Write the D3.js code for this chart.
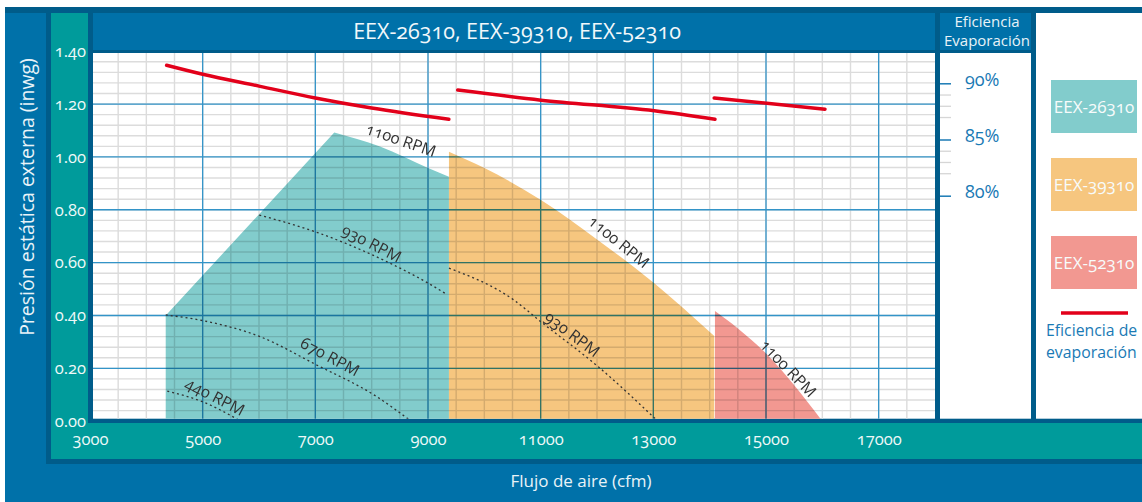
<!DOCTYPE html>
<html>
<head>
<meta charset="utf-8">
<script src="https://cdn.jsdelivr.net/npm/d3@7"></script>
<style>
  body { margin: 0; background: #fff; }
  text { font-family: "Open Sans", sans-serif; font-variant-numeric: oldstyle-nums; }
</style>
</head>
<body>
<div class="canva"></div>
<script>
// values
const title = "EEX-26310, EEX-39310, EEX-52310";
const models = ["EEX-26310", "EEX-39310", "EEX-52310"];
const modelColors = ["#82cccc", "#f6c67f", "#f29891"];
const xTicks = [3000, 5000, 7000, 9000, 11000, 13000, 15000, 17000];
const yTicks = [0, 0.2, 0.4, 0.6, 0.8, 1.0, 1.2, 1.4];
const effTicks = [80, 85, 90];
const effMinor = [82, 83, 84, 87, 88, 89];

// envelopes (cfm, inwg): straight left edge + max rpm curve
const edge26310 = [[4344, 0], [4344, 0.40], [7336, 1.092]];
const top26310 = [[7336, 1.092], [8148, 1.039], [9012, 0.957], [9372, 0.925]];
const edge39310 = [[9372, 0], [9372, 1.020]];
const top39310 = [[9372, 1.020], [10002, 0.958], [11005, 0.837], [12012, 0.686], [13017, 0.522], [14082, 0.322]];
const edge52310 = [[14094, 0], [14094, 0.417]];
const top52310 = [[14094, 0.417], [14502, 0.351], [15012, 0.254], [15512, 0.133], [16000, 0]];

// rpm curves (dotted)
const rpm930a = [[6005, 0.780], [6994, 0.717], [8206, 0.610], [9005, 0.522], [9332, 0.480]];
const rpm670 = [[4344, 0.402], [4993, 0.381], [6018, 0.320], [6994, 0.216], [8089, 0.093], [8700, 0]];
const rpm440 = [[4372, 0.114], [4993, 0.074], [5680, 0]];
const rpm930b = [[9372, 0.579], [10514, 0.460], [11005, 0.376], [12023, 0.206], [13080, 0]];

// evaporation efficiency (cfm, %)
const eff26310 = [[4360, 91.6], [5000, 90.8], [6000, 89.75], [7000, 88.7], [8000, 87.8], [9370, 86.8]];
const eff39310 = [[9527, 89.4], [11005, 88.5], [13017, 87.55], [14094, 86.8]];
const eff52310 = [[14080, 88.7], [16047, 87.7]];

const rpmLabels = [
  {text: "1100 RPM", cfm: 8520, p: 1.064, angle: 19},
  {text: "930 RPM", cfm: 8000, p: 0.673, angle: 27},
  {text: "670 RPM", cfm: 7260, p: 0.244, angle: 28},
  {text: "440 RPM", cfm: 5220, p: 0.093, angle: 27},
  {text: "1100 RPM", cfm: 12390, p: 0.679, angle: 39},
  {text: "930 RPM", cfm: 11560, p: 0.330, angle: 37},
  {text: "1100 RPM", cfm: 15395, p: 0.200, angle: 46}
];

const blue = "#0071a9", dark = "#005c8a", teal = "#009b9b", txtBlue = "#1a7ab5";

const svg = d3.select(".canva").append("svg")
  .attr("width", 1142)
  .attr("height", 502);

// frame
svg.append("rect").attr("x", 5).attr("y", 7).attr("width", 1137).attr("height", 495).attr("fill", blue);
svg.append("rect").attr("x", 5).attr("y", 7).attr("width", 1137).attr("height", 6).attr("fill", dark);
svg.append("rect").attr("x", 46).attr("y", 7).attr("width", 1096).attr("height", 457).attr("fill", dark);
svg.append("rect").attr("x", 51).attr("y", 13).attr("width", 37).attr("height", 446).attr("fill", teal);
svg.append("rect").attr("x", 51).attr("y", 423).attr("width", 1091).attr("height", 36).attr("fill", teal);
svg.append("rect").attr("x", 93).attr("y", 13).attr("width", 842).attr("height", 37).attr("fill", blue);
svg.append("rect").attr("x", 93).attr("y", 53).attr("width", 842).attr("height", 365.7).attr("fill", "#fff");
svg.append("rect").attr("x", 940).attr("y", 13).attr("width", 91).attr("height", 37).attr("fill", blue);
svg.append("rect").attr("x", 940).attr("y", 53).attr("width", 91).attr("height", 365.7).attr("fill", "#fff");
svg.append("rect").attr("x", 1036).attr("y", 13).attr("width", 106).attr("height", 405.7).attr("fill", "#fff");

// scales
const x = d3.scaleLinear().domain([3000, 18000]).range([90, 935]);
const y = d3.scaleLinear().domain([0, 1.4]).range([421.2, 51.2]);
const eff = d3.scaleLinear().domain([80, 90]).range([195.7, 83.3]);

svg.append("clipPath").attr("id", "plotclip")
  .append("rect").attr("x", 93).attr("y", 53).attr("width", 842).attr("height", 365.7);

const plot = svg.append("g").attr("clip-path", "url(#plotclip)");

// filled envelopes
const straight = d3.line().x(d => x(d[0])).y(d => y(d[1]));
const curved = d3.line().x(d => x(d[0])).y(d => y(d[1])).curve(d3.curveMonotoneX);
function envelope(edge, top) {
  const last = top[top.length - 1];
  return straight(edge) + curved(top).replace(/^M/, "L") + "L" + x(last[0]) + "," + y(0) + "Z";
}
[[edge26310, top26310], [edge39310, top39310], [edge52310, top52310]].forEach((e, i) => {
  plot.append("path").attr("d", envelope(e[0], e[1])).attr("fill", modelColors[i]);
});

// grid, multiplied over the fills
const grid = plot.append("g").style("mix-blend-mode", "multiply");
grid.selectAll(".vminor").data(d3.range(3500, 18000, 500)).join("line")
  .attr("x1", d => x(d)).attr("x2", d => x(d)).attr("y1", 53).attr("y2", 421)
  .attr("stroke", "#dcdcdc").attr("stroke-width", 1.4);
grid.selectAll(".hminor").data(d3.range(0.04, 1.4, 0.04)).join("line")
  .attr("x1", 93).attr("x2", 935).attr("y1", d => y(d)).attr("y2", d => y(d))
  .attr("stroke", "#dcdcdc").attr("stroke-width", 1.4);
grid.selectAll(".vmajor").data(xTicks.slice(1)).join("line")
  .attr("x1", d => x(d)).attr("x2", d => x(d)).attr("y1", 53).attr("y2", 421)
  .attr("stroke", "#3394c8").attr("stroke-width", 1.3);
grid.selectAll(".hmajor").data(yTicks.slice(1)).join("line")
  .attr("x1", 93).attr("x2", 935).attr("y1", d => y(d)).attr("y2", d => y(d))
  .attr("stroke", "#3394c8").attr("stroke-width", 1.3);

// rpm lines
[rpm930a, rpm670, rpm440, rpm930b].forEach(c => {
  plot.append("path").attr("d", curved(c))
    .attr("fill", "none").attr("stroke", "#333").attr("stroke-width", 1.3)
    .attr("stroke-dasharray", "2,3");
});

plot.selectAll(".rpmlabel").data(rpmLabels).join("text")
  .attr("transform", d => `translate(${x(d.cfm)},${y(d.p)}) rotate(${d.angle})`)
  .attr("text-anchor", "middle")
  .attr("dy", "0.35em")
  .attr("font-size", 16)
  .attr("fill", "#333")
  .text(d => d.text);

// efficiency lines
const effLine = d3.line().x(d => x(d[0])).y(d => eff(d[1])).curve(d3.curveMonotoneX);
[eff26310, eff39310, eff52310].forEach(s => {
  plot.append("path").attr("d", effLine(s))
    .attr("fill", "none").attr("stroke", "#e2001a").attr("stroke-width", 3.5)
    .attr("stroke-linecap", "round");
});

// axes
const yAxis = svg.append("g").attr("transform", "translate(86,0)")
  .call(d3.axisLeft(y).tickValues(yTicks).tickSize(0).tickPadding(0).tickFormat(d3.format(".2f")));
yAxis.select(".domain").remove();
yAxis.selectAll("text").attr("font-size", 16.5).attr("fill", "#eef8f8").attr("font-family", null);

const xAxis = svg.append("g").attr("transform", "translate(0,421)")
  .call(d3.axisBottom(x).tickValues(xTicks).tickSize(0).tickFormat(d3.format("d")));
xAxis.select(".domain").remove();
xAxis.selectAll("text").attr("y", 24).attr("dy", 0).attr("font-size", 16.5).attr("fill", "#eef8f8").attr("font-family", null);

svg.append("text").attr("transform", "translate(34,197) rotate(-90)")
  .attr("text-anchor", "middle").attr("font-size", 19.5).attr("fill", "#e8f3f8")
  .text("Presión estática externa (inwg)");
svg.append("text").attr("x", 581).attr("y", 487)
  .attr("text-anchor", "middle").attr("font-size", 17).attr("fill", "#e8f3f8")
  .text("Flujo de aire (cfm)");
svg.append("text").attr("x", 517).attr("y", 39)
  .attr("text-anchor", "middle").attr("font-size", 21.5).attr("fill", "#f2f8fb")
  .text(title);

// efficiency scale
svg.append("text").attr("x", 987).attr("y", 27).attr("text-anchor", "middle")
  .attr("font-size", 15).attr("fill", "#e8f3f8").text("Eficiencia");
svg.append("text").attr("x", 987).attr("y", 46).attr("text-anchor", "middle")
  .attr("font-size", 15).attr("fill", "#e8f3f8").text("Evaporación");

const effMinorAxis = svg.append("g").attr("transform", "translate(940,0)")
  .call(d3.axisRight(eff).tickValues(effMinor).tickSize(11).tickFormat(""));
effMinorAxis.select(".domain").remove();
effMinorAxis.selectAll("line").attr("stroke", "#d6d6d6").attr("stroke-width", 1.3);

const effAxis = svg.append("g").attr("transform", "translate(940,0)")
  .call(d3.axisRight(eff).tickValues(effTicks).tickSize(11).tickPadding(14).tickFormat(d => d + "%"));
effAxis.select(".domain").remove();
effAxis.selectAll("line").attr("stroke", txtBlue).attr("stroke-width", 1.5);
effAxis.selectAll("text").attr("font-size", 18).attr("fill", txtBlue).attr("font-family", null)
  .attr("dy", "0.1em");

// legend
const legend = svg.append("g");
models.forEach((m, i) => {
  legend.append("rect").attr("x", 1051).attr("y", 80 + i * 78).attr("width", 86).attr("height", 53)
    .attr("fill", modelColors[i]);
  legend.append("text").attr("x", 1094).attr("y", 113 + i * 78).attr("text-anchor", "middle")
    .attr("font-size", 17).attr("fill", "#f7fbfb").text(m);
});
legend.append("line").attr("x1", 1061).attr("x2", 1128).attr("y1", 313).attr("y2", 313)
  .attr("stroke", "#e2001a").attr("stroke-width", 3.5);
legend.append("text").attr("x", 1046).attr("y", 336).attr("font-size", 15.8).attr("fill", txtBlue)
  .text("Eficiencia de");
legend.append("text").attr("x", 1046).attr("y", 358).attr("font-size", 15.8).attr("fill", txtBlue)
  .text("evaporación");
</script>
</body>
</html>
